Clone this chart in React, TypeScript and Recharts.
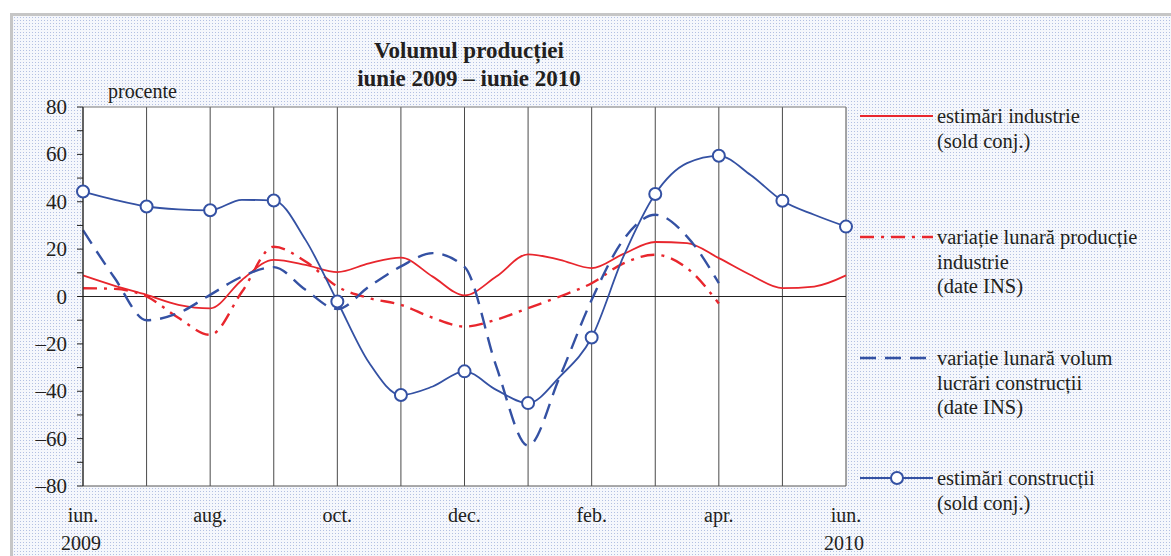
import React from 'react';
import {
  LineChart,
  Line,
  XAxis,
  YAxis,
  CartesianGrid,
  ReferenceLine,
} from 'recharts';

// semi-lunar steps, 0 = iun. 2009 ... 12 = iun. 2010
const tGrid = [0, 0.5, 1, 1.5, 2, 2.5, 3, 3.5, 4, 4.5, 5, 5.5, 6, 6.5, 7, 7.5, 8, 8.5, 9, 9.5, 10, 10.5, 11, 11.5, 12];

const estInd = [8.9, 4.5, 0.7, -3.5, -5, 7, 15.5, 13.4, 10.3, 14, 16.4, 8.4, 0.5, 8.4, 17.8, 15.5, 12, 18, 23, 22.5, 16.2, 9.1, 3.5, 4.2, 8.9];
const varInd = [3.5, 3.2, 0, -9, -16.2, 2, 21, 14.8, 4.2, -0.7, -3.5, -9, -12.7, -9.8, -4.9, 0, 5.6, 14, 17.6, 12, -3, null, null, null, null];
const varCon = [28, 7.7, -10, -7, 0.7, 8.4, 12.4, 2.8, -5.3, 4.2, 12.7, 18.3, 12.5, -29.5, -63, -33.8, -1.4, 24, 34.5, 25.3, 5.6, null, null, null, null];
const estCon = [44.3, 40.8, 38, 36.8, 36.4, 40.8, 40.5, 23.9, -2.1, -28, -41.6, -38, -31.6, -39.4, -45, -33.8, -17.3, 16.9, 43.3, 56.3, 59.4, 51.3, 40.4, 34.5, 29.5];

const monthTicks = [0, 1, 2, 3, 4, 5, 6, 7, 8, 9, 10, 11, 12];
const monthLabels = ['iun.', '', 'aug.', '', 'oct.', '', 'dec.', '', 'feb.', '', 'apr.', '', 'iun.'];
const yearLabels = ['2009', '', '', '', '', '', '', '', '', '', '', '', '2010'];
const yTicks = [-80, -70, -60, -50, -40, -30, -20, -10, 0, 10, 20, 30, 40, 50, 60, 70, 80];

const RED = '#e8262d';
const BLUE = '#3451a3';
const FONT = "'Liberation Serif', 'Times New Roman', serif";
const TXT = '#231f20';

const rows = tGrid.map((t, i) => ({
  t,
  estInd: estInd[i],
  varInd: varInd[i],
  varCon: varCon[i],
  estCon: estCon[i],
}));

const XTick = (props: any) => {
  const { x, y, payload } = props;
  const i = monthTicks.indexOf(payload.value);
  return (
    <g>
      <text x={x} y={y + 28} textAnchor="middle" fontSize={20} fontFamily={FONT} fill={TXT}>
        {monthLabels[i]}
      </text>
      <text x={x - 2} y={y + 56} textAnchor="middle" fontSize={20} fontFamily={FONT} fill={TXT}>
        {yearLabels[i]}
      </text>
    </g>
  );
};

const YTick = (props: any) => {
  const { x, y, payload } = props;
  const v = payload.value;
  if (v % 20 !== 0) return <g />;
  const label = v < 0 ? '\u2013' + Math.abs(v) : String(v);
  return (
    <text x={x - 8} y={y + 7} textAnchor="end" fontSize={21} fontFamily={FONT} fill={TXT}>
      {label}
    </text>
  );
};

const monthDot = (props: any) => {
  const { cx, cy, payload, index } = props;
  if (payload.t % 1 !== 0 || cx == null || cy == null) return <g key={'d' + index} />;
  return <circle key={'d' + index} cx={cx} cy={cy} r={6} fill="#fff" stroke={BLUE} strokeWidth={2} />;
};

const legendItems = [
  { y: 116, lines: ['estimări industrie', '(sold conj.)'], stroke: RED, dash: undefined, w: 1.8, marker: false },
  { y: 237, lines: ['variație lunară producție', 'industrie', '(date INS)'], stroke: RED, dash: '14 7 3 7', w: 2.4, marker: false },
  { y: 358, lines: ['variație lunară volum', 'lucrări construcții', '(date INS)'], stroke: BLUE, dash: '16 9', w: 2.4, marker: false },
  { y: 478, lines: ['estimări construcții', '(sold conj.)'], stroke: BLUE, dash: undefined, w: 1.8, marker: true },
];

export default function App() {
  return (
    <div style={{ position: 'absolute', left: 0, top: 0, width: 1171, height: 556, background: '#fff', overflow: 'hidden' }}>
      <div
        style={{
          position: 'absolute',
          left: 10,
          top: 13,
          width: 1161,
          height: 543,
          borderTop: '3px solid #c6c6c6',
          borderLeft: '3px solid #c6c6c6',
          boxSizing: 'border-box',
          backgroundColor: '#f5f7fc',
          backgroundImage: 'radial-gradient(circle, #b3c0e2 0.8px, transparent 1px)',
          backgroundSize: '3px 3px',
        }}
      />
      <div style={{ position: 'absolute', left: 0, top: 0 }}>
        <LineChart width={1171} height={556} data={rows} margin={{ top: 107, right: 325, bottom: 10, left: 23 }}>
          <CartesianGrid horizontal={false} vertical stroke="#4a4a4a" fill="#fff" />
          <XAxis
            dataKey="t"
            type="number"
            domain={[0, 12]}
            ticks={monthTicks}
            interval={0}
            tick={<XTick />}
            tickLine={false}
            axisLine={{ stroke: '#555' }}
            height={60}
          />
          <YAxis
            type="number"
            domain={[-80, 80]}
            ticks={yTicks}
            interval={0}
            tick={<YTick />}
            tickSize={6}
            tickLine={{ stroke: '#222' }}
            axisLine={{ stroke: '#222' }}
            width={60}
          />
          <ReferenceLine y={80} stroke="#777" />
          <ReferenceLine y={0} stroke="#222" strokeWidth={1.2} />
          <Line type="monotone" dataKey="estInd" stroke={RED} strokeWidth={1.8} dot={false} isAnimationActive={false} />
          <Line type="monotone" dataKey="varInd" stroke={RED} strokeWidth={2.4} strokeDasharray="14 7 3 7" dot={false} isAnimationActive={false} />
          <Line type="monotone" dataKey="varCon" stroke={BLUE} strokeWidth={2.4} strokeDasharray="16 9" dot={false} isAnimationActive={false} />
          <Line type="monotone" dataKey="estCon" stroke={BLUE} strokeWidth={1.8} dot={monthDot} isAnimationActive={false} />
        </LineChart>
      </div>
      <svg width={1171} height={556} style={{ position: 'absolute', left: 0, top: 0, pointerEvents: 'none' }}>
        <text x={469} y={58} textAnchor="middle" fontSize={23} fontWeight="bold" fontFamily={FONT} fill={TXT}>
          Volumul producției
        </text>
        <text x={469} y={86} textAnchor="middle" fontSize={23} fontWeight="bold" fontFamily={FONT} fill={TXT}>
          iunie 2009 – iunie 2010
        </text>
        <text x={108} y={98} fontSize={20} fontFamily={FONT} fill={TXT}>
          procente
        </text>
        {legendItems.map((it, k) => (
          <g key={k}>
            <line x1={860} x2={933} y1={it.y} y2={it.y} stroke={it.stroke} strokeWidth={it.w} strokeDasharray={it.dash} />
            {it.marker && <circle cx={897} cy={it.y} r={6} fill="#fff" stroke={BLUE} strokeWidth={2} />}
            {it.lines.map((s, j) => (
              <text key={j} x={937} y={it.y + 7 + j * 24.5} fontSize={20.5} fontFamily={FONT} fill={TXT}>
                {s}
              </text>
            ))}
          </g>
        ))}
      </svg>
    </div>
  );
}
